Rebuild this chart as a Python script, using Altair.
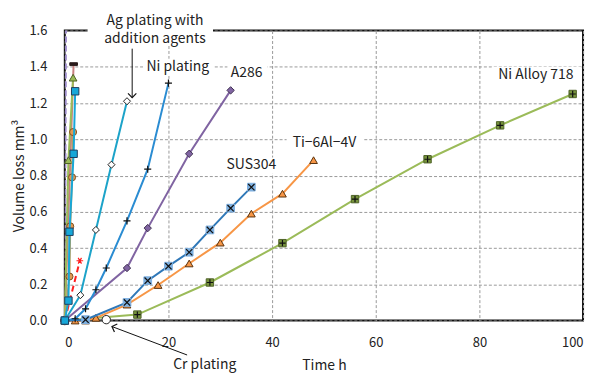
import altair as alt
import pandas as pd

# ---------------- data (time h, volume loss mm3) ----------------
ag_t = [0, 3, 6, 9, 12]
ag_v = [0, 0.14, 0.50, 0.86, 1.21]

nip_t = [0, 2, 4, 6, 8, 12, 16, 20]
nip_v = [0, 0.01, 0.065, 0.17, 0.29, 0.55, 0.835, 1.31]

a286_t = [0, 12, 16, 24, 32]
a286_v = [0, 0.29, 0.51, 0.92, 1.27]

sus_t = [0, 4, 12, 16, 20, 24, 28, 32, 36]
sus_v = [0, 0.005, 0.10, 0.22, 0.30, 0.377, 0.50, 0.62, 0.736]

ti_t = [0, 2, 4, 6, 12, 18, 24, 30, 36, 42, 48]
ti_v = [0, 0, 0, 0.015, 0.088, 0.196, 0.315, 0.43, 0.59, 0.70, 0.885]

ni718_t = [0, 14, 28, 42, 56, 70, 84, 98]
ni718_v = [0, 0.033, 0.21, 0.427, 0.67, 0.89, 1.077, 1.25]

cr_t = [0, 8]
cr_v = [0, 0.005]

# steep series near t = 0
oc_t = [0, 0.9, 1.05, 1.4, 1.6]
oc_v = [0, 0.243, 0.52, 0.79, 1.04]
bs_t = [0, 0.7, 0.9, 1.7, 2.0]
bs_v = [0, 0.11, 0.49, 0.92, 1.265]
gt_t = [0, 0.7, 1.6]
gt_v = [0, 0.885, 1.34]
bd_t = [0, 1.7]
bd_v = [0, 1.415]
pd_t = [0, 0.25]
pd_v = [0, 1.75]
rd_t = [0, 2.9]
rd_v = [0, 0.33]

# annotations
lab_text = ["Ag plating with", "addition agents", "Ni plating", "A286", "SUS304",
            "Ti\u22126Al\u22124V", "Ni Alloy 718", "Cr plating"]
lab_t = [17.4, 17.4, 21.8, 35.1, 36.0, 50.1, 90.9, 27.0]
lab_v = [1.652, 1.556, 1.40, 1.368, 0.857, 0.978, 1.352, -0.247]

box_t1 = [4.4, 15.1, 31.4, 30.3, 42.8, 82.4]
box_t2 = [28.6, 28.7, 39.1, 41.8, 57.6, 99.6]
box_v1 = [1.515, 1.35, 1.32, 0.81, 0.93, 1.30]
box_v2 = [1.74, 1.445, 1.41, 0.90, 1.02, 1.40]

arr_t1 = [13.0, 23.6]
arr_v1 = [1.50, -0.19]
arr_t2 = [13.0, 9.1]
arr_v2 = [1.23, -0.033]
arr_angle = [180, 290]

FONT = "Noto Sans CJK JP"

def df(t, v):
    return pd.DataFrame({"t": t, "v": v})

X = alt.X("t:Q", scale=alt.Scale(domain=[0, 100], nice=False, zero=False),
          axis=alt.Axis(values=[0, 20, 40, 60, 80, 100], title="Time  h", format="d"))
Y = alt.Y("v:Q", scale=alt.Scale(domain=[0, 1.6], nice=False, zero=False),
          axis=alt.Axis(values=[0, 0.2, 0.4, 0.6, 0.8, 1.0, 1.2, 1.4, 1.6],
                        title="Volume loss mm\u00b3", format=".1f"))

PLUS = "M-1,0L1,0M0,-1L0,1"
XMARK = "M-1,-1L1,1M-1,1L1,-1"
ASTER = "M-1,0L1,0M-0.5,-0.87L0.5,0.87M-0.5,0.87L0.5,-0.87"
DASH = "M-1,-0.35L1,-0.35L1,0.35L-1,0.35Z"
VHEAD = "M-1,1L0,0L1,1"

def line(t, v, color, width=2, dash=None, clip=False):
    kw = dict(color=color, strokeWidth=width, clip=clip)
    if dash:
        kw["strokeDash"] = dash
    return alt.Chart(df(t, v)).mark_line(**kw).encode(X, Y)

def pts(t, v, shape, fill=None, stroke="#222", size=45, sw=1.0):
    if fill is None:
        m = alt.Chart(df(t, v)).mark_point(shape=shape, filled=False, stroke=stroke,
                                           strokeWidth=sw, size=size, opacity=1)
    else:
        m = alt.Chart(df(t, v)).mark_point(shape=shape, filled=True, fill=fill, stroke=stroke,
                                           strokeWidth=sw, size=size, opacity=1)
    return m.encode(X, Y)

boxes = alt.Chart(pd.DataFrame({"t": box_t1, "t2": box_t2, "v": box_v1, "v2": box_v2})).mark_rect(
    color="white", clip=False).encode(X, alt.X2("t2:Q"), Y, alt.Y2("v2:Q"))

layers = [boxes]
# Ni Alloy 718
layers += [line(ni718_t, ni718_v, "#9BBB59"),
           pts(ni718_t[1:], ni718_v[1:], "square", fill="#76923C", stroke="#4F6228", size=55),
           pts(ni718_t[1:], ni718_v[1:], PLUS, stroke="#111", size=40, sw=1.2)]
# Ti-6Al-4V
layers += [line(ti_t, ti_v, "#F79646"),
           pts(ti_t, ti_v, "triangle-up", fill="#F79646", stroke="#5A3410", size=60)]
# SUS304
layers += [line(sus_t, sus_v, "#2F78B8"),
           pts(sus_t, sus_v, "square", fill="#7EB0E0", stroke="#7EB0E0", size=60),
           pts(sus_t, sus_v, XMARK, stroke="#111", size=40, sw=1.2)]
# A286
layers += [line(a286_t, a286_v, "#8064A2"),
           pts(a286_t, a286_v, "diamond", fill="#8064A2", stroke="#3F3151", size=55)]
# Ni plating
layers += [line(nip_t, nip_v, "#2A8CD2"),
           pts(nip_t, nip_v, PLUS, stroke="#111", size=50, sw=1.2)]
# Ag plating with addition agents
layers += [line(ag_t, ag_v, "#1CA3C9"),
           pts(ag_t, ag_v, "diamond", fill="white", stroke="#222", size=50)]
# Cr plating
layers += [pts(cr_t, cr_v, "circle", fill="white", stroke="#222", size=70)]
# steep series near zero
layers += [line(pd_t, pd_v, "#9C8CC8", width=2, dash=[6, 3], clip=True),
           line(rd_t, rd_v, "#FF2020", width=2, dash=[6, 4]),
           pts(rd_t[1:], rd_v[1:], ASTER, stroke="#FF2020", size=45, sw=1.2),
           line(bd_t, bd_v, "#C88080"),
           pts(bd_t[1:], bd_v[1:], DASH, fill="#2A1A1A", stroke="#2A1A1A", size=60),
           line(gt_t, gt_v, "#9BBB59"),
           pts(gt_t, gt_v, "triangle-up", fill="#9BBB59", stroke="#4F6228", size=60),
           line(oc_t, oc_v, "#B8A060"),
           pts(oc_t, oc_v, "circle", fill="#E09A55", stroke="#7F5020", size=50),
           line(bs_t, bs_v, "#17A7D8"),
           pts(bs_t, bs_v, "square", fill="#17A7D8", stroke="#1F3F5F", size=55)]

# arrows
arr = pd.DataFrame({"t": arr_t1, "v": arr_v1, "t2": arr_t2, "v2": arr_v2})
heads = pd.DataFrame({"t": arr_t2, "v": arr_v2, "a": arr_angle})
layers += [alt.Chart(arr).mark_rule(color="#111", strokeWidth=1).encode(X, alt.X2("t2:Q"), Y, alt.Y2("v2:Q")),
           alt.Chart(heads).mark_point(shape=VHEAD, filled=False, stroke="#111", strokeWidth=1.2,
                                       size=70, opacity=1).encode(
               X, Y, angle=alt.Angle("a:Q", scale=None))]

# labels
layers += [alt.Chart(pd.DataFrame({"t": lab_t, "v": lab_v, "s": lab_text})).mark_text(
    font=FONT, fontSize=14, color="#222", align="center", baseline="middle").encode(X, Y, text="s:N")]

chart = alt.layer(*layers).properties(
    width=520, height=291,
    autosize=alt.AutoSizeParams(type="none"),
    padding={"left": 57, "top": 22, "right": 10, "bottom": 54},
).configure_view(
    stroke="#111", strokeWidth=2
).configure_axis(
    grid=True, gridColor="#9A9A9A", gridDash=[3, 2], gridWidth=1,
    domain=False, ticks=False,
    labelFont=FONT, labelFontSize=13, labelColor="#222",
    titleFont=FONT, titleFontSize=14, titleFontWeight="normal", titleColor="#222",
).configure_axisX(
    labelPadding=16, titlePadding=9
).configure_axisY(
    labelPadding=18, titlePadding=2
)

chart.save("out.html", embed_options={"renderer": "svg", "actions": False})
